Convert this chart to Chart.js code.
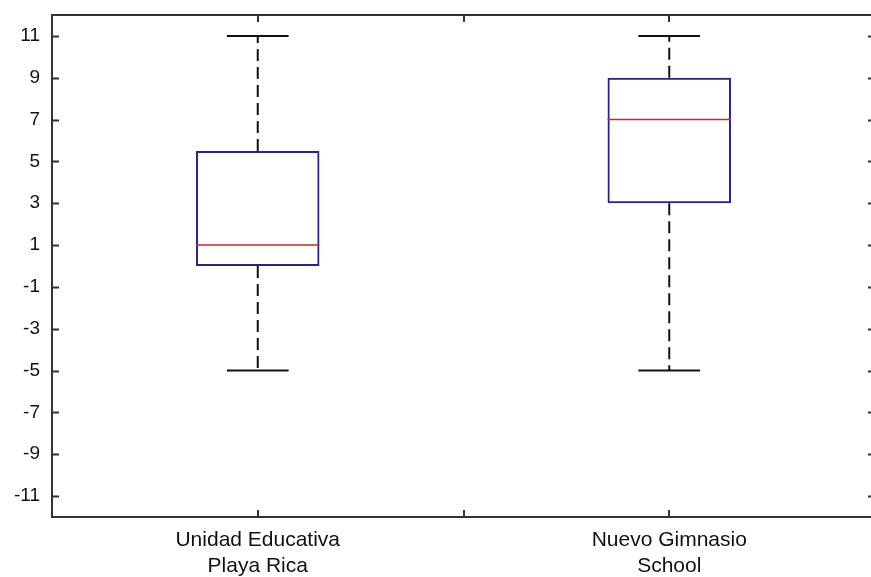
<!DOCTYPE html>
<html lang="es">
<head>
	<meta charset="UTF-8">
	<title>Boxplot</title>
	<script src="https://cdn.jsdelivr.net/npm/chart.js"></script>
	<style>
		html, body { margin: 0; padding: 0; background: #fff; overflow: hidden; }
		#wrap { position: relative; width: 880px; height: 577px; }
	</style>
</head>
<body>
	<div id="wrap">
		<canvas id="myChart"></canvas>
	</div>
	<script type="text/javascript">
		// datos
		var categorias = [['Unidad Educativa', 'Playa Rica'], ['Nuevo Gimnasio', 'School']];
		var minimos = [-5, -5];
		var cuartil1 = [0, 3];
		var medianas = [1, 7];
		var cuartil3 = [5.5, 9];
		var maximos = [11, 11];
		var ticksY = [-11, -9, -7, -5, -3, -1, 1, 3, 5, 7, 9, 11];
		var ticksX = [1, 1.5, 2];

		var mitadCaja = 0.15;   // media anchura de la caja (unidades de x)
		var mitadTope = 0.075;  // media anchura del tope del bigote

		var cajas = [], lineaMediana = [], bigotes = [], topes = [];
		categorias.forEach(function(c, i) {
			var x = i + 1;
			cajas.push({x: x, y: [cuartil1[i], cuartil3[i]]});
			lineaMediana.push({x: x - mitadCaja, y: medianas[i]}, {x: x + mitadCaja, y: medianas[i]}, {x: x, y: null});
			bigotes.push({x: x, y: cuartil3[i]}, {x: x, y: maximos[i]}, {x: x, y: null});
			bigotes.push({x: x, y: cuartil1[i]}, {x: x, y: minimos[i]}, {x: x, y: null});
			topes.push({x: x - mitadTope, y: maximos[i]}, {x: x + mitadTope, y: maximos[i]}, {x: x, y: null});
			topes.push({x: x - mitadTope, y: minimos[i]}, {x: x + mitadTope, y: minimos[i]}, {x: x, y: null});
		});

		// marco y marcas hacia dentro, estilo matlab
		var marco = {
			id: 'marco',
			afterDatasetsDraw: function(chart) {
				var ctx = chart.ctx, a = chart.chartArea;
				var sx = chart.scales.x, sy = chart.scales.y;
				var largo = 7;
				ctx.save();
				ctx.strokeStyle = '#333';
				ctx.lineWidth = 2;
				ctx.beginPath();
				sy.ticks.forEach(function(t) {
					var y = Math.round(sy.getPixelForValue(t.value)) + 0.5;
					ctx.moveTo(a.left, y); ctx.lineTo(a.left + largo, y);
					ctx.moveTo(a.right, y); ctx.lineTo(a.right - largo, y);
				});
				sx.ticks.forEach(function(t) {
					var x = Math.round(sx.getPixelForValue(t.value));
					ctx.moveTo(x, a.bottom); ctx.lineTo(x, a.bottom - largo);
					ctx.moveTo(x, a.top); ctx.lineTo(x, a.top + largo);
				});
				ctx.stroke();
				ctx.strokeRect(a.left, a.top, a.right - a.left, a.bottom - a.top);
				ctx.restore();
			}
		};

		var ctx = document.getElementById('myChart');
		var myChart = new Chart(ctx, {
			type: 'bar',
			data: {
				datasets: [
					{
						type: 'bar',
						data: cajas,
						backgroundColor: 'rgba(0,0,0,0)',
						borderColor: '#24248c',
						borderWidth: 2,
						borderSkipped: false,
						barPercentage: 0.6,
						categoryPercentage: 1,
						grouped: false,
						order: 3
					},
					{
						type: 'line',
						data: bigotes,
						borderColor: '#111',
						borderWidth: 2,
						borderDash: [12, 6],
						pointRadius: 0,
						spanGaps: false,
						order: 2
					},
					{
						type: 'line',
						data: topes,
						borderColor: '#111',
						borderWidth: 2,
						pointRadius: 0,
						spanGaps: false,
						order: 1
					},
					{
						type: 'line',
						data: lineaMediana,
						borderColor: '#d42424',
						borderWidth: 1.5,
						pointRadius: 0,
						spanGaps: false,
						order: 0
					}
				]
			},
			options: {
				responsive: true,
				maintainAspectRatio: false,
				animation: false,
				layout: { padding: { top: 15, right: 5, left: 0, bottom: 0 } },
				plugins: {
					legend: { display: false },
					tooltip: { enabled: false }
				},
				scales: {
					x: {
						type: 'linear',
						min: 0.5,
						max: 2.5,
						offset: false,
						grid: { display: false, drawTicks: false },
						border: { display: false },
						afterBuildTicks: function(scale) {
							scale.ticks = ticksX.map(function(v) { return {value: v}; });
						},
						afterFit: function(scale) {
							scale.height = 60;
							scale.paddingLeft = 0;
							scale.paddingRight = 0;
						},
						ticks: {
							autoSkip: false,
							maxRotation: 0,
							padding: 10,
							color: '#111',
							font: { family: "'Liberation Sans', Arial, sans-serif", size: 21, lineHeight: 1.25 },
							callback: function(v) {
								var i = v - 1;
								return Number.isInteger(i) && categorias[i] ? categorias[i] : '';
							}
						}
					},
					y: {
						type: 'linear',
						min: -12,
						max: 12,
						grid: { display: false, drawTicks: false },
						border: { display: false },
						afterBuildTicks: function(scale) {
							scale.ticks = ticksY.map(function(v) { return {value: v}; });
						},
						afterFit: function(scale) {
							scale.width = 52;
							scale.paddingTop = 0;
							scale.paddingBottom = 0;
						},
						ticks: {
							padding: 12,
							color: '#111',
							font: { family: "'Liberation Sans', Arial, sans-serif", size: 19 }
						}
					}
				}
			},
			plugins: [marco]
		});
	</script>
</body>
</html>
